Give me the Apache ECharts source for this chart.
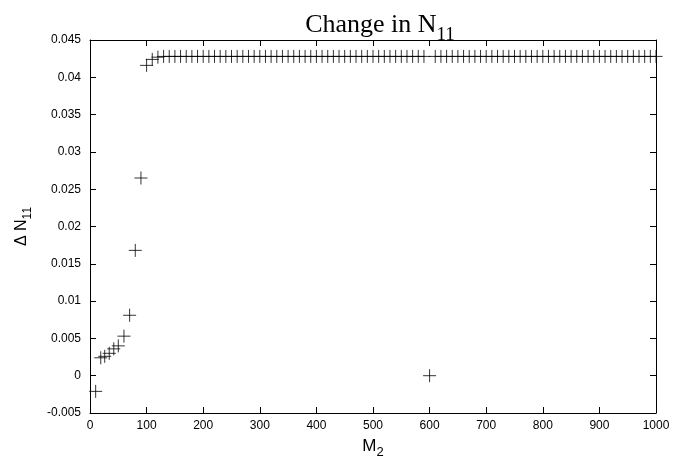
<!DOCTYPE html>
<html>
<head>
<meta charset="utf-8">
<script src="https://cdn.jsdelivr.net/npm/echarts@6/dist/echarts.min.js"></script>
<style>html,body{margin:0;padding:0;background:#fff;}#c{width:675px;height:464px;}</style>
</head>
<body>
<div id="c"></div>
<script>
const titleMain = 'Change in N';
const titleSub = '11';
const xTicks = [0, 100, 200, 300, 400, 500, 600, 700, 800, 900, 1000];
const yTicks = [-0.005, 0, 0.005, 0.01, 0.015, 0.02, 0.025, 0.03, 0.035, 0.04, 0.045];
const m2 = [10, 19, 26, 34, 42, 50, 60, 70, 80, 90,
  100, 110, 120, 130, 140, 150, 160, 170, 180, 190,
  200, 210, 220, 230, 240, 250, 260, 270, 280, 290,
  300, 310, 320, 330, 340, 350, 360, 370, 380, 390,
  400, 410, 420, 430, 440, 450, 460, 470, 480, 490,
  500, 510, 520, 530, 540, 550, 560, 570, 580, 590,
  600, 610, 620, 630, 640, 650, 660, 670, 680, 690,
  700, 710, 720, 730, 740, 750, 760, 770, 780, 790,
  800, 810, 820, 830, 840, 850, 860, 870, 880, 890,
  900, 910, 920, 930, 940, 950, 960, 970, 980, 990, 1000];
const dN11 = [-0.0021, 0.0024, 0.0026, 0.0030, 0.0036, 0.0040, 0.0053, 0.0081, 0.0168, 0.0265,
  0.0416, 0.0424, 0.0427, 0.0428, 0.0428, 0.0428, 0.0428, 0.0428, 0.0428, 0.0428,
  0.0428, 0.0428, 0.0428, 0.0428, 0.0428, 0.0428, 0.0428, 0.0428, 0.0428, 0.0428,
  0.0428, 0.0428, 0.0428, 0.0428, 0.0428, 0.0428, 0.0428, 0.0428, 0.0428, 0.0428,
  0.0428, 0.0428, 0.0428, 0.0428, 0.0428, 0.0428, 0.0428, 0.0428, 0.0428, 0.0428,
  0.0428, 0.0428, 0.0428, 0.0428, 0.0428, 0.0428, 0.0428, 0.0428, 0.0428, 0.0428,
  0.0, 0.0428, 0.0428, 0.0428, 0.0428, 0.0428, 0.0428, 0.0428, 0.0428, 0.0428,
  0.0428, 0.0428, 0.0428, 0.0428, 0.0428, 0.0428, 0.0428, 0.0428, 0.0428, 0.0428,
  0.0428, 0.0428, 0.0428, 0.0428, 0.0428, 0.0428, 0.0428, 0.0428, 0.0428, 0.0428,
  0.0428, 0.0428, 0.0428, 0.0428, 0.0428, 0.0428, 0.0428, 0.0428, 0.0428, 0.0428, 0.0428];

const data = m2.map((x, i) => [x, dN11[i]]);
const fontSans = 'Liberation Sans, Arial, sans-serif';
const fontSerif = 'Liberation Serif, Times New Roman, serif';
const axisLine = {show: true, onZero: false, lineStyle: {color: '#000', width: 1}};
const axisTick = {show: true, inside: true, length: 6, lineStyle: {color: '#000', width: 1}};

const chart = echarts.init(document.getElementById('c'), null, {renderer: 'canvas'});
chart.setOption({
  animation: false,
  backgroundColor: '#fff',
  title: {
    text: '{a|' + titleMain + '}{b|' + titleSub + '}',
    left: 375, top: 3, textAlign: 'center',
    textStyle: {
      rich: {
        a: {fontFamily: fontSerif, fontSize: 26, fontWeight: 'normal', color: '#000', verticalAlign: 'bottom', lineHeight: 30},
        b: {fontFamily: fontSerif, fontSize: 19, fontWeight: 'normal', color: '#000', verticalAlign: 'bottom', lineHeight: 30, padding: [0, 0, -7, 0]}
      }
    }
  },
  grid: {left: 90, top: 40, width: 566, height: 380, containLabel: false},
  xAxis: [{
    type: 'value', min: xTicks[0], max: xTicks[xTicks.length - 1], interval: 100,
    position: 'bottom',
    axisLine: axisLine, axisTick: axisTick, splitLine: {show: false},
    axisLabel: {color: '#000', fontFamily: fontSans, fontSize: 12, margin: 7,
      formatter: v => String(v)},
    name: '{a|M}{b|2}', nameLocation: 'middle', nameGap: 22,
    nameTextStyle: {rich: {
      a: {fontFamily: fontSans, fontSize: 17, color: '#000', verticalAlign: 'bottom', lineHeight: 20},
      b: {fontFamily: fontSans, fontSize: 13, color: '#000', verticalAlign: 'bottom', lineHeight: 20, padding: [0, 0, -4, 0]}
    }}
  }, {
    type: 'value', min: xTicks[0], max: xTicks[xTicks.length - 1], interval: 100,
    position: 'top',
    axisLine: axisLine, axisTick: axisTick, splitLine: {show: false}, axisLabel: {show: false}
  }],
  yAxis: [{
    type: 'value', min: yTicks[0], max: yTicks[yTicks.length - 1], interval: 0.005,
    position: 'left',
    axisLine: axisLine, axisTick: axisTick, splitLine: {show: false},
    axisLabel: {color: '#000', fontFamily: fontSans, fontSize: 12, margin: 9,
      formatter: v => String(+v.toFixed(3))},
    name: '{a|Δ N}{b|11}', nameLocation: 'middle', nameGap: 60, nameRotate: 90,
    nameTextStyle: {rich: {
      a: {fontFamily: fontSans, fontSize: 16, color: '#000', verticalAlign: 'bottom', lineHeight: 20},
      b: {fontFamily: fontSans, fontSize: 12, color: '#000', verticalAlign: 'bottom', lineHeight: 20, padding: [0, 0, -4, 0]}
    }}
  }, {
    type: 'value', min: yTicks[0], max: yTicks[yTicks.length - 1], interval: 0.005,
    position: 'right',
    axisLine: axisLine, axisTick: axisTick, splitLine: {show: false}, axisLabel: {show: false}
  }],
  series: [{
    type: 'scatter',
    xAxisIndex: 0, yAxisIndex: 0,
    data: data,
    symbol: 'path://M0,7L14,7M7,0L7,14',
    symbolSize: 13,
    itemStyle: {color: 'rgba(0,0,0,0)', borderColor: '#000', borderWidth: 1},
    emphasis: {disabled: true}
  }]
});
</script>
</body>
</html>
